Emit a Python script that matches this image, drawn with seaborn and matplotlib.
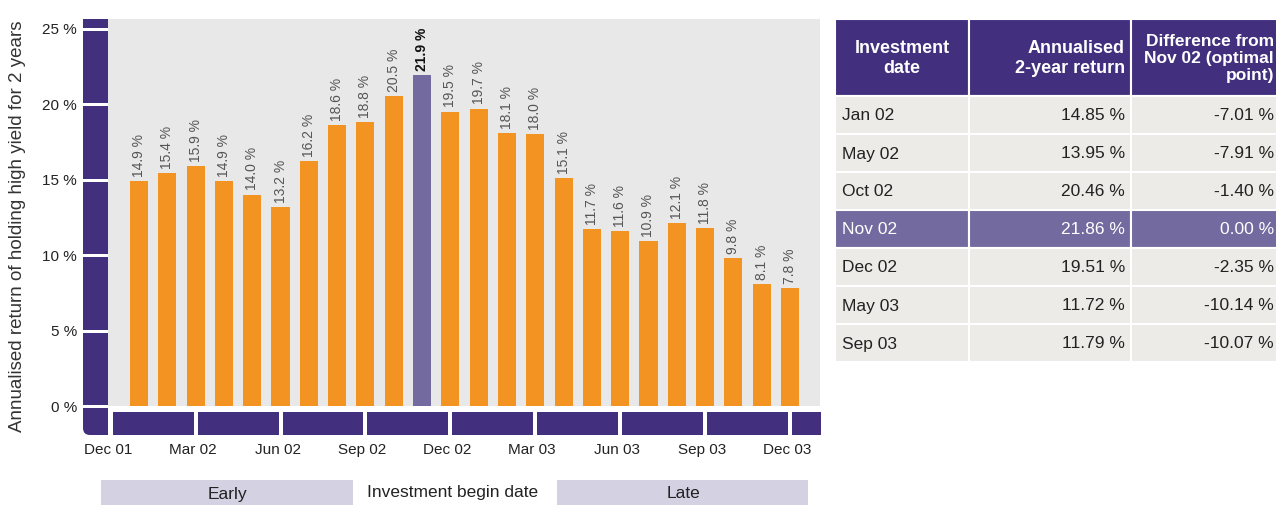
import numpy as np
import pandas as pd
import matplotlib
matplotlib.use("Agg")
import matplotlib.pyplot as plt
import seaborn as sns
from matplotlib.patches import Rectangle, FancyBboxPatch
from matplotlib.transforms import ScaledTranslation

# ---------------- data ----------------
months = ["Jan 02", "Feb 02", "Mar 02", "Apr 02", "May 02", "Jun 02",
          "Jul 02", "Aug 02", "Sep 02", "Oct 02", "Nov 02", "Dec 02",
          "Jan 03", "Feb 03", "Mar 03", "Apr 03", "May 03", "Jun 03",
          "Jul 03", "Aug 03", "Sep 03", "Oct 03", "Nov 03", "Dec 03"]
returns = [14.9, 15.4, 15.9, 14.9, 14.0, 13.2, 16.2, 18.6, 18.8, 20.5, 21.9, 19.5,
           19.7, 18.1, 18.0, 15.1, 11.7, 11.6, 10.9, 12.1, 11.8, 9.8, 8.1, 7.8]
highlight = "Nov 02"
tick_labels = ["Dec 01", "Mar 02", "Jun 02", "Sep 02", "Dec 02",
               "Mar 03", "Jun 03", "Sep 03", "Dec 03"]
yticks = [0, 5, 10, 15, 20, 25]
y_label = "Annualised return of holding high yield for 2 years"

table_header = ["Investment\ndate", "Annualised\n2-year return",
                "Difference from\nNov 02 (optimal\npoint)"]
table_dates = ["Jan 02", "May 02", "Oct 02", "Nov 02", "Dec 02", "May 03", "Sep 03"]
table_returns = ["14.85 %", "13.95 %", "20.46 %", "21.86 %", "19.51 %", "11.72 %", "11.79 %"]
table_diffs = ["-7.01 %", "-7.91 %", "-1.40 %", "0.00 %", "-2.35 %", "-10.14 %", "-10.07 %"]

band_labels = ["Early", "Investment begin date", "Late"]

# ---------------- style ----------------
ORANGE = "#F39322"
HL = "#736B9F"
PURPLE = "#42307E"
BG = "#E8E8E8"
ROWBG = "#ECEBE8"
BAND = "#D3D1E2"

sns.set_style("white")
plt.rcParams["font.family"] = ["Liberation Sans", "DejaVu Sans"]

W, H = 1276, 505
fig = plt.figure(figsize=(W / 100, H / 100), dpi=100)
ax = fig.add_axes([108 / W, (H - 406) / H, (820 - 108) / W, (406 - 19) / H])

df = pd.DataFrame({"month": months, "ret": returns})
palette = {m: (HL if m == highlight else ORANGE) for m in months}
sns.barplot(data=df, x="month", y="ret", hue="month", order=months, hue_order=months,
            palette=palette, legend=False, width=0.64, saturation=1, ax=ax,
            linewidth=0, edgecolor="none")

ax.set_xlim(-1.095, 24.06)
ax.set_ylim(0, 25.63)
ax.set_facecolor(BG)
for s in ax.spines.values():
    s.set_visible(False)
ax.set_xlabel("")
ax.set_ylabel("")
ax.grid(False)

# bar labels
for cont, m in zip(ax.containers, months):
    txts = ax.bar_label(cont, fmt="{:.1f} %", rotation=90, padding=3,
                        fontsize=10, color="#555555")
    if m == highlight:
        for t in txts:
            t.set_color("#111111")
            t.set_fontweight("bold")

# ticks
start = pd.Period("2002-01", freq="M")
tick_pos = [(pd.Period(pd.to_datetime(l, format="%b %y"), freq="M") - start).n for l in tick_labels]
ax.set_xticks(tick_pos, tick_labels)
ax.tick_params(axis="x", length=0, pad=26.5, labelsize=11, labelcolor="#222222")
offset = ScaledTranslation(-3 / 100, 0, fig.dpi_scale_trans)
for lab in ax.get_xticklabels():
    lab.set_transform(lab.get_transform() + offset)
ax.set_yticks(yticks, [f"{t} %" for t in yticks])
ax.tick_params(axis="y", length=0, pad=22.3, labelsize=11, labelcolor="#222222")

fig.text(18 / W, 1 - 226 / H, y_label, rotation=90, ha="center", va="center",
         fontsize=13.5, color="#333333")

# ---------------- overlay in pixel coords (top-origin) ----------------
ov = fig.add_axes([0, 0, 1, 1])
ov.set_xlim(0, W)
ov.set_ylim(H, 0)
ov.axis("off")
ov.patch.set_alpha(0)


def to_px(x, y):
    d = ax.transData.transform((x, y))
    return ov.transData.inverted().transform(d)


ax_left = ov.transData.inverted().transform(ax.transAxes.transform((0, 0)))[0]
ax_right = ov.transData.inverted().transform(ax.transAxes.transform((1, 1)))[0]
ax_top = ov.transData.inverted().transform(ax.transAxes.transform((1, 1)))[1]

# left purple strip with gaps at the y ticks
strip_l, strip_r = ax_left - 25, ax_left
strip_bottom = 435
gaps = sorted([to_px(0, t)[1] for t in yticks])
edges = [ax_top]
for g in gaps:
    edges += [g - 1, g + 2]
edges.append(strip_bottom)
for i in range(0, len(edges), 2):
    y0, y1 = edges[i], edges[i + 1]
    if i + 2 == len(edges):
        r = 7
        ov.add_patch(FancyBboxPatch((strip_l + r, y0 + r), (strip_r - strip_l) - 2 * r,
                                    (y1 - y0) - 2 * r,
                                    boxstyle=f"round,pad={r}", fc=PURPLE, ec="none"))
        ov.add_patch(Rectangle((strip_l, y0), strip_r - strip_l, (y1 - y0) / 2, fc=PURPLE, ec="none"))
        ov.add_patch(Rectangle((strip_l + 10, y0), strip_r - strip_l - 10, y1 - y0, fc=PURPLE, ec="none"))
    else:
        ov.add_patch(Rectangle((strip_l, y0), strip_r - strip_l, y1 - y0, fc=PURPLE, ec="none"))

# bottom purple strip with gaps at quarter months
b_top, b_bot = 412, 435
xs = [ax_left + 5]
for p in tick_pos:
    if p >= 0:
        c = to_px(p, 0)[0]
        xs += [c - 2, c + 2]
xs.append(ax_right + 1)
for i in range(0, len(xs) - 1, 2):
    x0, x1 = xs[i], xs[i + 1]
    if x1 > x0:
        ov.add_patch(Rectangle((x0, b_top), x1 - x0, b_bot - b_top, fc=PURPLE, ec="none"))

# bottom band labels
ov.add_patch(Rectangle((101, 480), 252, 30, fc=BAND, ec="none"))
ov.add_patch(Rectangle((557, 480), 251, 30, fc=BAND, ec="none"))
ov.text(227, 494, band_labels[0], ha="center", va="center", fontsize=12.5, color="#222222")
ov.text(453, 493, band_labels[1], ha="center", va="center", fontsize=12.5, color="#222222")
ov.text(683, 494, band_labels[2], ha="center", va="center", fontsize=12.5, color="#222222")

# ---------------- table ----------------
col_edges = [835, 969, 1131, 1300]
h_top, h_bot = 19, 96
row_h = 38
right_txt = 1274
for c in range(3):
    ov.add_patch(Rectangle((col_edges[c], h_top), col_edges[c + 1] - col_edges[c], h_bot - h_top,
                           fc=PURPLE, ec="white", lw=1.5))
hy = (h_top + h_bot) / 2 + 1
ov.text((col_edges[0] + col_edges[1]) / 2, hy, table_header[0], ha="center", va="center",
        multialignment="center", fontsize=13, fontweight="bold", color="white", linespacing=1.22)
ov.text(col_edges[2] - 6, hy, table_header[1], ha="right", va="center",
        multialignment="right", fontsize=13, fontweight="bold", color="white", linespacing=1.22)
ov.text(right_txt, hy, table_header[2], ha="right", va="center",
        multialignment="right", fontsize=12.5, fontweight="bold", color="white", linespacing=1.18)

for i, (d, r, df_) in enumerate(zip(table_dates, table_returns, table_diffs)):
    y0 = h_bot + i * row_h
    fc = HL if d == highlight else ROWBG
    tc = "white" if d == highlight else "#222222"
    for c in range(3):
        ov.add_patch(Rectangle((col_edges[c], y0), col_edges[c + 1] - col_edges[c], row_h,
                               fc=fc, ec="white", lw=1.5))
    yc = y0 + row_h / 2 + 1
    ov.text(col_edges[0] + 7, yc, d, ha="left", va="center", fontsize=12.5, color=tc)
    ov.text(col_edges[2] - 6, yc, r, ha="right", va="center", fontsize=12.5, color=tc)
    ov.text(right_txt, yc, df_, ha="right", va="center", fontsize=12.5, color=tc)

fig.savefig("out.png", dpi=100)
